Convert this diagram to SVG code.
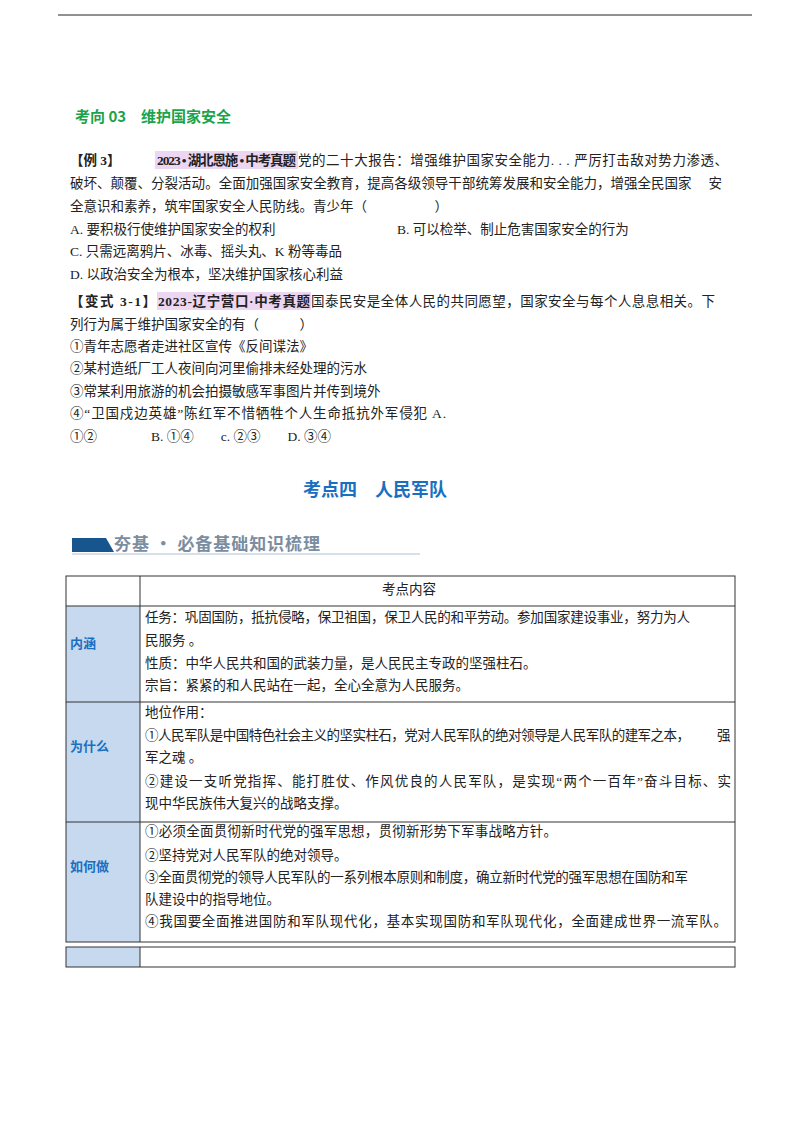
<svg xmlns="http://www.w3.org/2000/svg" width="800" height="1132" viewBox="0 0 800 1132">
<style>
.t{font-family:"Liberation Serif","Noto Sans CJK SC",serif;font-size:13.5px;fill:#222}
.b{font-weight:bold}
.lab{font-family:"Noto Sans CJK SC",sans-serif;font-size:13px;font-weight:bold;fill:#1a6fc0}
.cell{fill:none;stroke:#333;stroke-width:1}
</style>
<rect width="800" height="1132" fill="#fff"/>
<line x1="58" y1="15" x2="752" y2="15" stroke="#222" stroke-width="1"/>
<g id="section3">
<text x="75" y="122" font-family="Noto Sans CJK SC,sans-serif" font-size="15" font-weight="bold" fill="#1aa34a">考向 03　维护国家安全</text>
</g>
<g id="example3">
<rect x="155" y="151" width="143" height="18" fill="#ecd6f2"/>
<text class="t b" x="70" y="165" fill="#1a6fc0" font-size="15">【例 3】</text>
<text class="t b" x="157" y="165" textLength="139">2023 • 湖北恩施 • 中考真题</text>
<text class="t" x="298" y="165" textLength="430">党的二十大报告：增强维护国家安全能力. . . 严厉打击敌对势力渗透、</text>
<text class="t" x="70" y="188" textLength="652">破坏、颠覆、分裂活动。全面加强国家安全教育，提高各级领导干部统筹发展和安全能力，增强全民国家　 安</text>
<text class="t" x="70" y="211">全意识和素养，筑牢国家安全人民防线。青少年（　　　　　）</text>
<text class="t" x="70" y="234">A. 要积极行使维护国家安全的权利</text>
<text class="t" x="397" y="234">B. 可以检举、制止危害国家安全的行为</text>
<text class="t" x="70" y="256">C. 只需远离鸦片、冰毒、摇头丸、K 粉等毒品</text>
<text class="t" x="70" y="279">D. 以政治安全为根本，坚决维护国家核心利益</text>
</g>
<g id="variant31">
<rect x="157" y="292" width="154" height="18" fill="#ecd6f2"/>
<text class="t b" x="70" y="306" fill="#1a6fc0" textLength="86">【变式 3-1】</text>
<text class="t b" x="158" y="306" textLength="152">2023-辽宁营口·中考真题</text>
<text class="t" x="311" y="306" textLength="404">国泰民安是全体人民的共同愿望，国家安全与每个人息息相关。下</text>
<text class="t" x="70" y="329">列行为属于维护国家安全的有（　　　）</text>
<text class="t" x="70" y="351">①青年志愿者走进社区宣传《反间谍法》</text>
<text class="t" x="70" y="373">②某村造纸厂工人夜间向河里偷排未经处理的污水</text>
<text class="t" x="70" y="396">③常某利用旅游的机会拍摄敏感军事图片并传到境外</text>
<text class="t" x="70" y="418" textLength="376">④“卫国戍边英雄”陈红军不惜牺牲个人生命抵抗外军侵犯 A.</text>
<text class="t" x="70" y="441">①②　　　　B. ①④　　c. ②③　　D. ③④</text>
</g>
<g id="heading4">
<text x="375" y="496" text-anchor="middle" font-family="Noto Sans CJK SC,sans-serif" font-size="18" font-weight="bold" fill="#1a6fc0">考点四　人民军队</text>
</g>
<g id="banner">
<polygon points="72,538 106,538 114,552 72,552" fill="#17558e"/>
<line x1="72" y1="554" x2="420" y2="554" stroke="#c9d6e2" stroke-width="1.5"/>
<text x="114" y="550" font-family="Noto Sans CJK SC,sans-serif" font-size="17" font-weight="bold" fill="#7b8da0" textLength="206">夯基 · 必备基础知识梳理</text>
</g>
<g id="table">
<rect x="66" y="606" width="74" height="336" fill="#c6d9ef"/>
<rect x="66" y="947" width="74" height="20" fill="#c6d9ef"/>
<rect class="cell" x="66" y="576" width="669" height="366"/>
<line class="cell" x1="140" y1="576" x2="140" y2="942"/>
<line class="cell" x1="66" y1="606" x2="735" y2="606"/>
<line class="cell" x1="66" y1="702" x2="735" y2="702"/>
<line class="cell" x1="66" y1="822" x2="735" y2="822"/>
<rect class="cell" x="66" y="947" width="669" height="20"/>
<line class="cell" x1="140" y1="947" x2="140" y2="967"/>
<text class="t" x="409" y="594" text-anchor="middle">考点内容</text>
<text class="lab" x="70" y="648">内涵</text>
<text class="t" x="145" y="622" textLength="545">任务：巩固国防，抵抗侵略，保卫祖国，保卫人民的和平劳动。参加国家建设事业，努力为人</text>
<text class="t" x="145" y="645">民服务 。</text>
<text class="t" x="145" y="668">性质：中华人民共和国的武装力量，是人民民主专政的坚强柱石。</text>
<text class="t" x="145" y="690">宗旨：紧紧的和人民站在一起，全心全意为人民服务。</text>
<text class="lab" x="70" y="751">为什么</text>
<text class="t" x="145" y="717">地位作用：</text>
<text class="t" x="145" y="740" textLength="545">①人民军队是中国特色社会主义的坚实柱石，党对人民军队的绝对领导是人民军队的建军之本，</text>
<text class="t" x="717" y="740">强</text>
<text class="t" x="145" y="762">军之魂 。</text>
<text class="t" x="145" y="786" textLength="586">②建设一支听党指挥、能打胜仗、作风优良的人民军队，是实现“两个一百年”奋斗目标、实</text>
<text class="t" x="145" y="808">现中华民族伟大复兴的战略支撑。</text>
<text class="lab" x="70" y="871">如何做</text>
<text class="t" x="145" y="836" textLength="412">①必须全面贯彻新时代党的强军思想，贯彻新形势下军事战略方针。</text>
<text class="t" x="145" y="860">②坚持党对人民军队的绝对领导。</text>
<text class="t" x="145" y="882" textLength="543">③全面贯彻党的领导人民军队的一系列根本原则和制度，确立新时代党的强军思想在国防和军</text>
<text class="t" x="145" y="904">队建设中的指导地位。</text>
<text class="t" x="145" y="926" textLength="582">④我国要全面推进国防和军队现代化，基本实现国防和军队现代化，全面建成世界一流军队。</text>
</g>
</svg>
